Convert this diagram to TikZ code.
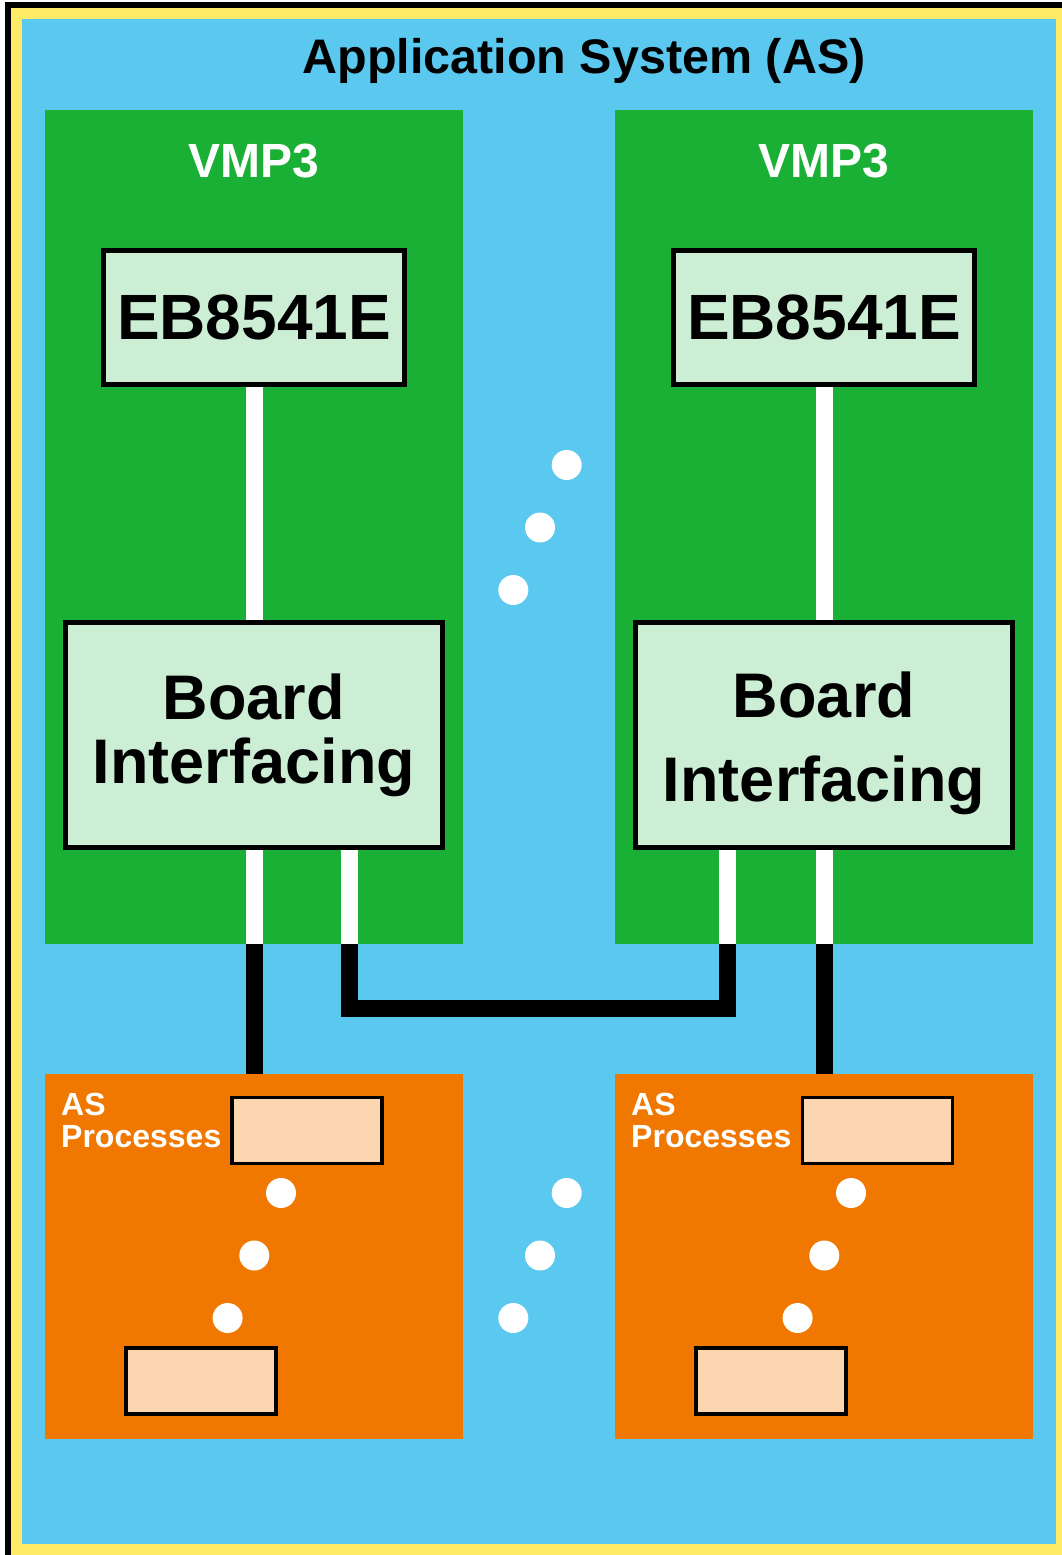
\documentclass[tikz,border=0pt]{standalone}
\usepackage{fontspec}
\setmainfont{Liberation Sans}
\usepackage{xcolor}
\usepackage{tikz}

\definecolor{asblue}{RGB}{91,200,240}
\definecolor{asyellow}{RGB}{255,235,102}
\definecolor{vmpgreen}{RGB}{26,176,53}
\definecolor{boardgreen}{RGB}{204,238,213}
\definecolor{procorange}{RGB}{240,120,0}
\definecolor{procpeach}{RGB}{251,214,176}

\pgfdeclarelayer{background}
\pgfdeclarelayer{wires}
\pgfsetlayers{background,wires,main}

\begin{document}
\begin{tikzpicture}[x=1pt, y=-1pt,
  panel/.style={fill=#1, inner sep=0, minimum width=418},
  ebbox/.style={draw, line width=5, fill=boardgreen, inner sep=0,
    minimum width=301, minimum height=134, font=\fontsize{64}{70}\selectfont\bfseries},
  bibox/.style={draw, line width=5, fill=boardgreen, inner sep=0, align=center,
    minimum width=377, minimum height=225},
  procbox/.style={draw, line width=3.5, fill=procpeach, inner sep=0,
    minimum width=150, minimum height=66},
  whitewire/.style={white, line width=17},
  blackwire/.style={black, line width=17, line join=miter}]
\useasboundingbox (0,0) rectangle (1062,1555);

%--- Frame and panels ---
\begin{pgfonlayer}{background}
  \fill[black] (5,2) rectangle (1062,1555);
  \fill[asyellow] (11,8) rectangle (1062,1555);
  \fill[asblue] (22,19) rectangle (1056,1544);

  % VMP3 boards
  \node[panel=vmpgreen, minimum height=834] (VMPl) at (254,527) {};
  \node[panel=vmpgreen, minimum height=834] (VMPr) at (824,527) {};

  % AS process areas
  \node[panel=procorange, minimum height=365] (ASPl) at (254,1256.5) {};
  \node[panel=procorange, minimum height=365] (ASPr) at (824,1256.5) {};
\end{pgfonlayer}

\node[font=\fontsize{48.5}{58}\selectfont\bfseries, anchor=base] (title) at (584,74) {Application System (AS)};
\node[white, font=\fontsize{48}{58}\selectfont\bfseries, anchor=base] (VMPlt) at (254,177) {VMP3};
\node[white, font=\fontsize{48}{58}\selectfont\bfseries, anchor=base] (VMPrt) at (824,177) {VMP3};

% Boards
\node[ebbox] (EBl) at (254,317.5) {EB8541E};
\node[ebbox] (EBr) at (824,317.5) {EB8541E};
\node[bibox, font=\fontsize{63}{64}\selectfont\bfseries] (BIl) at (254,735) {Board\\Interfacing};
\node[bibox, font=\fontsize{63}{84}\selectfont\bfseries] (BIr) at (824,735) {\rule{0pt}{62pt}Board\\Interfacing};

% Process boxes
\node[white, font=\fontsize{32}{32}\selectfont\bfseries, align=left, inner sep=0, anchor=north west] (ASPlt) at (61,1093) {AS\\Processes};
\node[white, font=\fontsize{32}{32}\selectfont\bfseries, align=left, inner sep=0, anchor=north west] (ASPrt) at (631,1093) {AS\\Processes};
\node[procbox] (Pl1) at (307,1130.5) {};
\node[procbox] (Pl2) at (201,1381) {};
\node[procbox] (Pr1) at (877.5,1130.5) {};
\node[procbox] (Pr2) at (771,1381) {};

% Ellipsis dots
\foreach \x/\y in {566.7/465, 566.7/1193, 281/1193, 851/1193} {
  \foreach \i in {0,1,2}
    \fill[white] ({\x-26.7*\i},{\y+62.5*\i}) circle (15);
}

%--- Wiring ---
\coordinate (tapl1) at (254,944);
\coordinate (tapl2) at (349.5,944);
\coordinate (tapr1) at (727.5,944);
\coordinate (tapr2) at (824,944);
\coordinate (bus) at (727.5,1008);
\begin{pgfonlayer}{wires}
  \draw[whitewire] (EBl.south) -- (BIl.north);
  \draw[whitewire] (EBr.south) -- (BIr.north);
  \draw[whitewire] (BIl.south) -- (tapl1);
  \draw[whitewire] (BIl.south -| tapl2) -- (tapl2);
  \draw[whitewire] (BIr.south -| tapr1) -- (tapr1);
  \draw[whitewire] (BIr.south) -- (tapr2);
  \draw[blackwire] (tapl1) -- (tapl1 |- ASPl.north);
  \draw[blackwire] (tapr2) -- (tapr2 |- ASPr.north);
  \draw[blackwire] (tapl2) |- (bus) -- (tapr1);
\end{pgfonlayer}
\end{tikzpicture}
\end{document}
